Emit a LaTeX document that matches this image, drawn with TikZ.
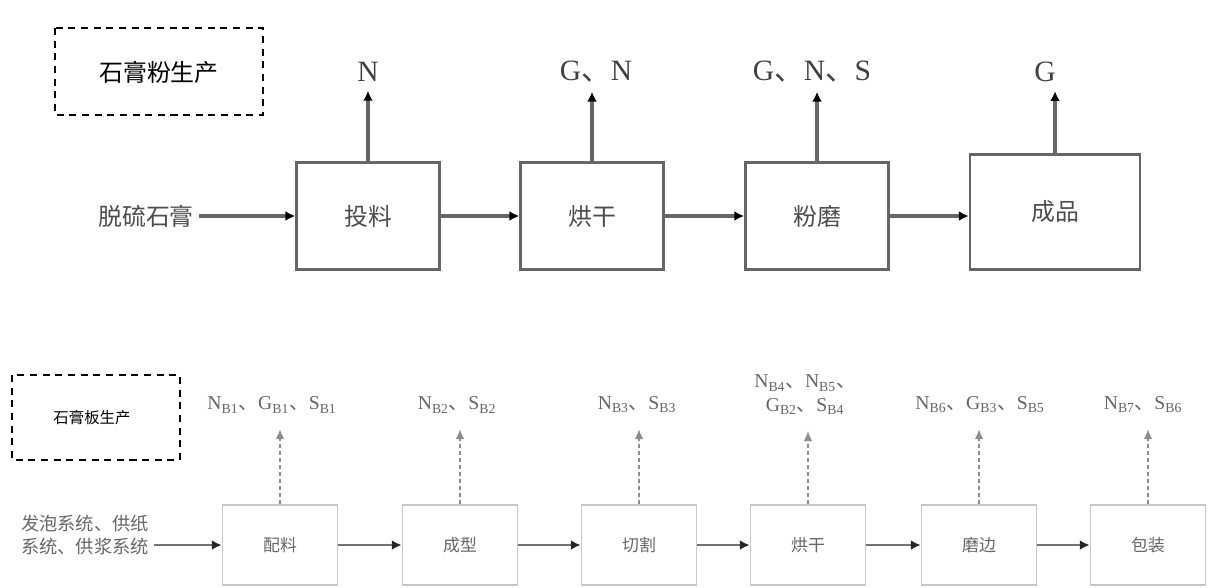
\documentclass[tikz,border=0pt]{standalone}
\usepackage{fontspec}
\setmainfont{Liberation Serif}
\newfontfamily\cjk{Noto Sans CJK SC}
\newcommand{\dun}{{\cjk 、}}
\usetikzlibrary{positioning, arrows.meta}

\tikzset{
  stagebox/.style={draw=black!60, line width=1.8pt, minimum width=3.575cm, minimum height=2.675cm,
    text=black!70, font=\cjk\fontsize{17}{20}\selectfont},
  platebox/.style={draw=black!22, line width=1.2pt, minimum width=2.875cm, minimum height=2cm,
    text=black!60, font=\cjk\fontsize{12}{14}\selectfont},
  emitlbl/.style={text=black!75, font=\fontsize{21}{23}\selectfont},
  platelbl/.style={text=black!60, font=\fontsize{14}{17}\selectfont, align=center},
  flow/.style={draw=black!60, line width=2.4pt, -{Latex[length=7pt,width=7pt,color=black]}},
  pflow/.style={draw=black!55, line width=1.8pt, -{Latex[length=7pt,width=7pt,color=black!85]}},
  vent/.style={draw=black!45, line width=0.8pt, densely dashed, -{Latex[length=7pt,width=6pt]}},
  groupbox/.style={draw, dashed, line width=1.2pt, dash pattern=on 5pt off 4pt}
}

\begin{document}
\begin{tikzpicture}[x=0.025cm, y=-0.025cm]
  \useasboundingbox (0,0) rectangle (1208,587);

  % upper line: gypsum powder
  \draw[groupbox] (55,28) rectangle (263,115);
  \node[font=\cjk\fontsize{17}{20}\selectfont] (powder) at (159,72) {石膏粉生产};

  \node[text=black!70, font=\cjk\fontsize{17}{20}\selectfont] (feed) at (146,216) {脱硫石膏};
  \node[stagebox] (tl) at (368,216) {投料};
  \node[stagebox] (hg) at (592,216) {烘干};
  \node[stagebox] (fm) at (817,216) {粉磨};
  \node[stagebox, minimum width=4.25cm, minimum height=2.875cm] (cp) at (1055,212) {成品};

  \node[emitlbl] (e1) at (368,72) {N};
  \node[emitlbl] (e2) at (596,72) {G\dun N};
  \node[emitlbl] (e3) at (812,72) {G\dun N\dun S};
  \node[emitlbl] (e4) at (1045,72) {G};

  \draw[flow] (feed) -- (tl);
  \draw[flow] (tl) -- (hg);
  \draw[flow] (hg) -- (fm);
  \draw[flow] (fm) -- (fm -| cp.west);
  \foreach \b/\e in {tl/e1, hg/e2, fm/e3, cp/e4}
    \draw[flow, shorten >=3pt] (\b.north) -- (\b.north |- \e.south);

  % lower line: gypsum board
  \draw[groupbox] (12,375) rectangle (180,460);
  \node[font=\cjk\fontsize{11}{13}\selectfont] (board) at (92,418) {石膏板生产};

  \node[text=black!60, font=\cjk\fontsize{13}{17}\selectfont, align=center] (mix) at (85,535)
    {发泡系统、供纸\\系统、供浆系统};
  \node[platebox] (pl) at (280,545) {配料};
  \node[platebox] (cx) at (460,545) {成型};
  \node[platebox] (qg) at (639,545) {切割};
  \node[platebox] (hg2) at (808,545) {烘干};
  \node[platebox] (mb) at (979,545) {磨边};
  \node[platebox] (bz) at (1148,545) {包装};

  \node[platelbl] (p1) at (272,405) {N$_{\mathrm{B1}}$\dun G$_{\mathrm{B1}}$\dun S$_{\mathrm{B1}}$};
  \node[platelbl] (p2) at (457,405) {N$_{\mathrm{B2}}$\dun S$_{\mathrm{B2}}$};
  \node[platelbl] (p3) at (637,405) {N$_{\mathrm{B3}}$\dun S$_{\mathrm{B3}}$};
  \node[platelbl] (p4) at (805,395) {N$_{\mathrm{B4}}$\dun N$_{\mathrm{B5}}$\dun\\G$_{\mathrm{B2}}$\dun S$_{\mathrm{B4}}$};
  \node[platelbl] (p5) at (980,405) {N$_{\mathrm{B6}}$\dun G$_{\mathrm{B3}}$\dun S$_{\mathrm{B5}}$};
  \node[platelbl] (p6) at (1143,405) {N$_{\mathrm{B7}}$\dun S$_{\mathrm{B6}}$};

  \draw[pflow] (mix.east |- pl.west) -- (pl.west);
  \draw[pflow] (pl) -- (cx);
  \draw[pflow] (cx) -- (qg);
  \draw[pflow] (qg) -- (hg2);
  \draw[pflow] (hg2) -- (mb);
  \draw[pflow] (mb) -- (bz);
  \foreach \b/\e in {pl/p1, cx/p2, qg/p3, hg2/p4, mb/p5, bz/p6}
    \draw[vent, shorten >=8pt] (\b.north) -- (\b.north |- \e.south);
\end{tikzpicture}
\end{document}
